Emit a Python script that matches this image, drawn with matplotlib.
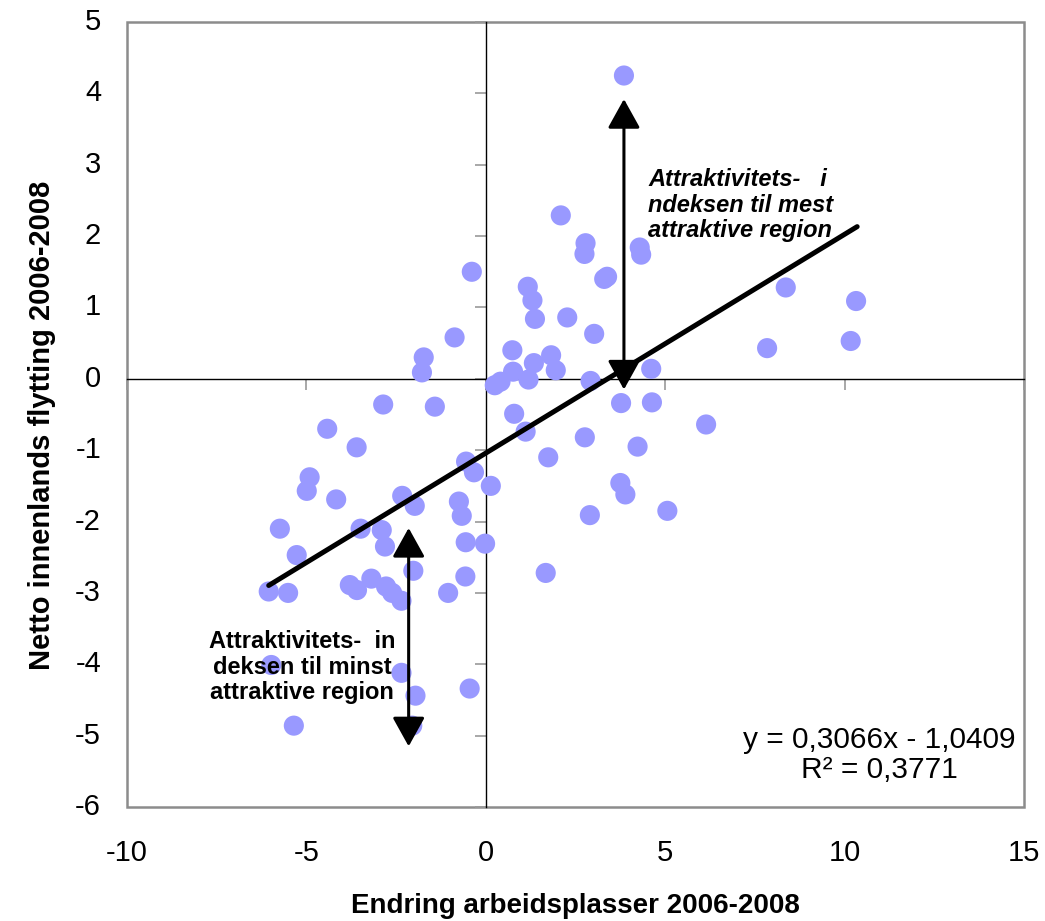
import matplotlib
matplotlib.use("Agg")
import matplotlib.pyplot as plt
from matplotlib.patches import Rectangle
import numpy as np

plt.rcParams['font.family'] = ['Liberation Sans', 'DejaVu Sans']

# ---- data ----
job_change = [-0.87, -1.73, -1.78, 0.25, 0.41, -2.86, -1.42, -4.42, -3.60, -0.55,
              -0.33, -4.91, -4.99, -4.17, -2.33, -1.98, -0.75, -0.67, 0.14, -5.74,
              -3.49, -2.90, -2.81, -5.27, -0.56, -0.02, -2.02, -0.57, -6.05, -5.51,
              -3.79, -3.59, -3.19, -2.78, -2.61, -2.35, -1.05, -5.98, -2.35, -1.96,
              -0.45, -5.35, -2.05, 2.09, 2.78, 2.75, 4.29, 4.33, 3.30, 3.38,
              -0.39, 1.17, 1.30, 1.37, 2.27, 3.02, 0.74, 1.82, 1.34, 1.95,
              0.76, 1.19, 2.92, 4.61, 8.36, 10.32, 7.84, 10.17, 3.77, 4.63,
              6.14, 0.79, 1.11, 2.76, 4.23, 1.74, 3.75, 3.89, 2.90, 5.06,
              1.67, 3.85]
net_migration = [0.58, 0.30, 0.09, -0.09, -0.04, -0.36, -0.39, -0.70, -0.96, -1.16,
                 -1.31, -1.38, -1.57, -1.69, -1.64, -1.78, -1.72, -1.92, -1.50, -2.10,
                 -2.10, -2.12, -2.35, -2.47, -2.29, -2.31, -2.69, -2.77, -2.98, -3.00,
                 -2.89, -2.96, -2.80, -2.91, -3.00, -3.11, -3.00, -4.01, -4.12, -4.44,
                 -4.34, -4.86, -4.86, 2.29, 1.90, 1.75, 1.84, 1.74, 1.40, 1.43,
                 1.50, 1.29, 1.10, 0.84, 0.86, 0.63, 0.40, 0.33, 0.22, 0.12,
                 0.10, -0.01, -0.03, 0.14, 1.28, 1.09, 0.43, 0.53, -0.34, -0.33,
                 -0.64, -0.49, -0.74, -0.82, -0.95, -1.10, -1.46, -1.62, -1.91, -1.85,
                 -2.72, 4.25]

slope = 0.3066
intercept = -1.0409
r_squared = 0.3771
trend_x_range = [-6.05, 10.35]

x_ticks = [-10, -5, 0, 5, 10, 15]
y_ticks = [5, 4, 3, 2, 1, 0, -1, -2, -3, -4, -5, -6]

arrow_top = {"x": 3.85, "y_from": -0.15, "y_to": 3.92}
arrow_bottom = {"x": -2.15, "y_from": -5.15, "y_to": -2.09}

x_label = "Endring arbeidsplasser 2006-2008"
y_label = "Netto innenlands flytting 2006-2008"
note_top = "Attraktivitets-   i\nndeksen til mest\nattraktive region"
note_bottom = "Attraktivitets-  in\ndeksen til minst\nattraktive region"

# ---- figure ----
W, H = 1045, 921
fig = plt.figure(figsize=(W / 100, H / 100), dpi=100)
L, R, T, B = 127, 1024, 22, 807
ax = fig.add_axes([L / W, 1 - B / H, (R - L) / W, (B - T) / H])
ax.set_xlim(-10, 15)
ax.set_ylim(-6, 5)

# axes through origin
for s in ['top', 'right']:
    ax.spines[s].set_visible(False)
for s in ['left', 'bottom']:
    ax.spines[s].set_position(('data', 0))
    ax.spines[s].set_color('black')
    ax.spines[s].set_linewidth(1.0)
ax.set_xticks(x_ticks)
ax.set_yticks(y_ticks)
ax.tick_params(axis='both', direction='out', length=8, width=1.2, color='#999999',
               labelbottom=False, labelleft=False)

# gray frame
ax.add_patch(Rectangle((0, 0), 1, 1, transform=ax.transAxes, fill=False,
                       edgecolor='#8c8c8c', linewidth=1.8, clip_on=False, zorder=0.5))

# tick labels at frame edges
ax_h = B - T
ax_w = R - L
for v in x_ticks:
    ax.text(v, -(853 - B) / ax_h, f"{v}", transform=ax.get_xaxis_transform(),
            ha='center', va='center', fontsize=21)
for v in y_ticks:
    ax.text(-(L - 101) / ax_w, v, f"{v}", transform=ax.get_yaxis_transform(),
            ha='right', va='center', fontsize=21)

# scatter
ax.scatter(job_change, net_migration, s=210, color='#9999FF', edgecolors='none',
           zorder=3, clip_on=False)

# trend line
tx = np.array(trend_x_range)
ax.plot(tx, slope * tx + intercept, color='black', lw=3.6, zorder=4,
        solid_capstyle='round')

# arrows
for a in (arrow_top, arrow_bottom):
    ax.annotate('', xy=(a["x"], a["y_to"]), xytext=(a["x"], a["y_from"]),
                arrowprops=dict(arrowstyle='<|-|>,head_length=0.9,head_width=0.5',
                                lw=2.2, color='black', shrinkA=0, shrinkB=0,
                                mutation_scale=20), zorder=5)

# notes
fig.text(648 / W, 1 - 205 / H, note_top, ha='left', va='center', fontsize=17,
         fontweight='bold', fontstyle='italic', linespacing=1.15)
fig.text(302 / W, 1 - 667 / H, note_bottom, ha='center', va='center', fontsize=17,
         fontweight='bold', linespacing=1.12, multialignment='center')

eq = f"y = {slope:.4f}x - {abs(intercept):.4f}".replace('.', ',')
r2 = f"R² = {r_squared:.4f}".replace('.', ',')
fig.text(879 / W, 1 - 755 / H, eq + "\n" + r2, ha='center', va='center',
         fontsize=21.5, linespacing=1.12, multialignment='center')

# axis labels
fig.text(575 / W, 1 - 913 / H, x_label, ha='center', va='baseline',
         fontsize=20, fontweight='bold')
fig.text(42 / W, 1 - 425 / H, y_label, ha='center', va='center', rotation=90,
         fontsize=21, fontweight='bold')

fig.savefig('out.png', dpi=100)
